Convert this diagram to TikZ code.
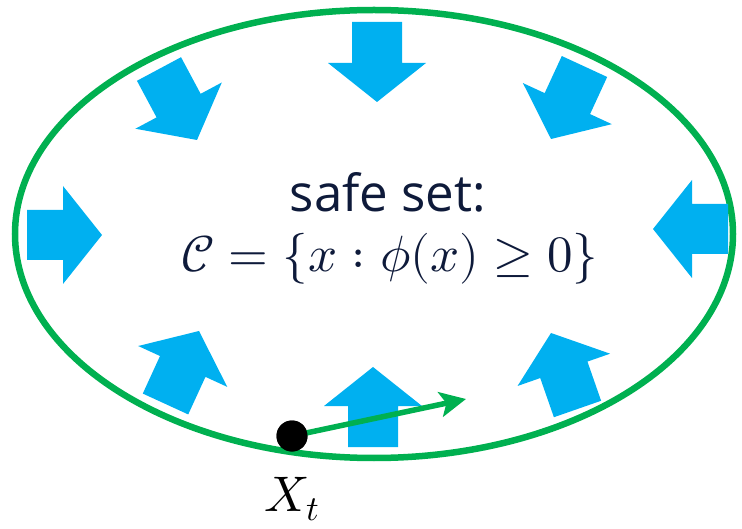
\documentclass[tikz,border=0pt]{standalone}
\usepackage{fontspec}
\usepackage{unicode-math}
\setmainfont{Open Sans}
\setmathfont{Latin Modern Math}
\usetikzlibrary{calc,arrows.meta}
\definecolor{setgreen}{HTML}{00B050}
\definecolor{arrowblue}{HTML}{00B0F0}
\definecolor{textnavy}{HTML}{0E1A3A}
\tikzset{
  boundary/.style={draw=setgreen,line width=6.5pt},
  blockfill/.style={fill=arrowblue},
  stepvec/.style={draw=setgreen,line width=5.5pt,-{Stealth[length=26pt,width=25pt,inset=6pt]}},
  statedot/.style={circle,fill=black,minimum size=31pt,inner sep=0pt},
  labeltext/.style={text=textnavy,inner sep=0pt,anchor=base},
}
% block arrow: tail coordinate, tip coordinate, name prefix
\newcommand\blockarrow[3]{%
  \coordinate (#3b) at ($(#2)!39pt!(#1)$);
  \fill[blockfill] ($(#1)!25pt!90:(#2)$) -- ($(#3b)!25pt!-90:(#1)$) --
    ($(#3b)!49pt!-90:(#1)$) -- (#2) -- ($(#3b)!49pt!90:(#1)$) --
    ($(#3b)!25pt!90:(#1)$) -- ($(#1)!25pt!-90:(#2)$) -- cycle;
}
\begin{document}
\begin{tikzpicture}[x=1pt,y=-1pt]
\useasboundingbox (0,0) rectangle (742,529);
\draw[boundary] (374,234) ellipse [x radius=359pt, y radius=224pt];
% blue block arrows
\coordinate (t1) at (377,22);    \coordinate (p1) at (377,102);
\coordinate (t2) at (584.5,66.5);\coordinate (p2) at (551,139);
\coordinate (t3) at (728,229);   \coordinate (p3) at (653,229);
\coordinate (t4) at (577.5,409); \coordinate (p4) at (551,333);
\coordinate (t5) at (373,447);   \coordinate (p5) at (373,367);
\coordinate (t6) at (165.5,404); \coordinate (p6) at (199,331);
\coordinate (t7) at (27,235);    \coordinate (p7) at (102,235);
\coordinate (t8) at (159,69);    \coordinate (p8) at (197,140);
\blockarrow{t1}{p1}{a1}
\blockarrow{t2}{p2}{a2}
\blockarrow{t3}{p3}{a3}
\blockarrow{t4}{p4}{a4}
\blockarrow{t5}{p5}{a5}
\blockarrow{t6}{p6}{a6}
\blockarrow{t7}{p7}{a7}
\blockarrow{t8}{p8}{a8}
% texts
\node[labeltext,font=\fontsize{51}{56}\selectfont] (title) at (388,212) {safe set:};
\node[labeltext,font=\fontsize{51}{56}\selectfont] (setdef) at (390,272)
  {$\mathcal{C}=\{x:\phi(x)\geq 0\}$};
% state and step
\node[statedot] (xt) at (292,436) {};
\coordinate (stepend) at (466,399);
\draw[stepvec] (xt.center) -- (stepend);
\node[statedot] (xt2) at (292,436) {};
\node[inner sep=0pt,anchor=base,font=\fontsize{50}{54}\selectfont] (xlabel) at (292,511) {$X_{\raisebox{3pt}{$\scriptstyle t$}}$};
\end{tikzpicture}
\end{document}
